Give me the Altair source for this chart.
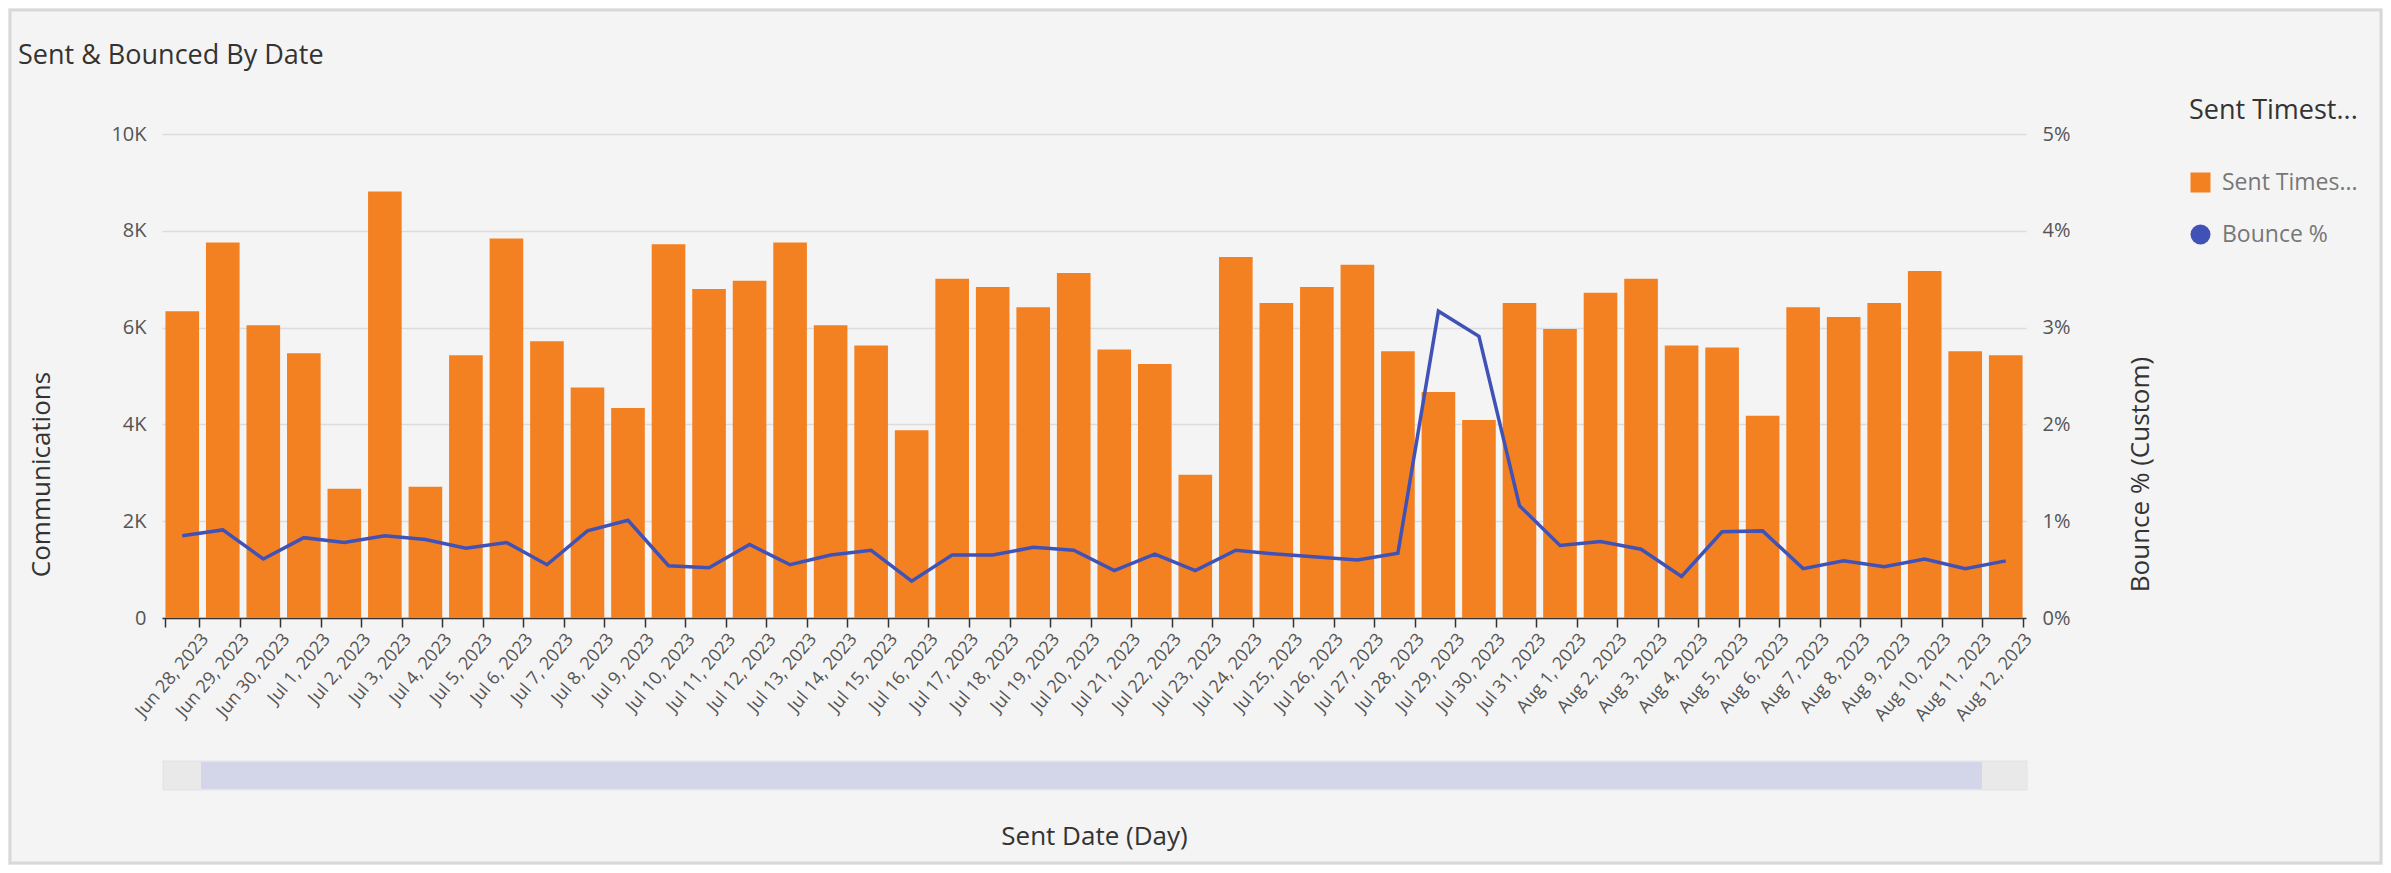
import altair as alt
import pandas as pd

# ---- data ----
dates = pd.date_range("2023-06-28", "2023-08-12", freq="D")
date_labels = [d.strftime("%b %-d, %Y") for d in dates]

sent_counts = [
    6340, 7760, 6050, 5470, 2670, 8810, 2710, 5430, 7840, 5720, 4760, 4340,
    7720, 6800, 6970, 7760, 6050, 5630, 3880, 7010, 6840, 6420, 7130,
    5550, 5250, 2960, 7460, 6510, 6840, 7300, 5510, 4670, 4090, 6510, 5970,
    6720, 7010, 5630, 5590, 4180, 6420, 6220, 6510, 7170, 5510, 5430,
]
bounce_pct = [
    0.85, 0.91, 0.61, 0.83, 0.78, 0.85, 0.81, 0.72, 0.78, 0.55, 0.90, 1.01,
    0.54, 0.52, 0.76, 0.55, 0.65, 0.70, 0.38, 0.65, 0.65, 0.73, 0.70,
    0.49, 0.66, 0.49, 0.70, 0.66, 0.63, 0.60, 0.67, 3.17, 2.91, 1.16, 0.75,
    0.79, 0.71, 0.43, 0.89, 0.90, 0.51, 0.59, 0.53, 0.61, 0.51, 0.59,
]

left_ticks = [0, 2000, 4000, 6000, 8000, 10000]
right_ticks = [0, 1, 2, 3, 4, 5]

series_names = ["Sent Times...", "Bounce %"]
series_colors = ["#F38122", "#4152B6"]
series_shapes = ["square", "circle"]
legend_title = "Sent Timest..."

df = pd.DataFrame({"date": date_labels, "sent": sent_counts, "bounce": bounce_pct})

FONT = "Open Sans"
W, H = 1864, 484

x_enc = alt.X(
    "date:N",
    sort=date_labels,
    scale=alt.Scale(paddingInner=0.17, paddingOuter=0.085),
    axis=alt.Axis(
        title="Sent Date (Day)",
        tickBand="extent",
        labelAngle=310,
        labelAlign="right",
        labelBaseline="top",
        labelFontSize=18,
        labelColor="#555555",
        labelPadding=3,
        labelOffset=16,
        domainColor="#333333",
        domainWidth=1.5,
        tickColor="#333333",
        tickWidth=1.5,
        tickSize=9,
        grid=False,
        titleFontSize=26,
        titleColor="#333333",
        titleFontWeight="normal",
        titleX=W / 2,
        titleY=218,
        titleBaseline="middle",
        titleAlign="center",
    ),
)

bars = alt.Chart(df).mark_bar(color=series_colors[0]).encode(
    x=x_enc,
    y=alt.Y(
        "sent:Q",
        scale=alt.Scale(domain=[0, 10000], nice=False),
        axis=alt.Axis(
            values=left_ticks,
            labelExpr="datum.value == 0 ? '0' : (datum.value / 1000) + 'K'",
            title="Communications",
            grid=True,
            gridColor="#dcdcdc",
            gridWidth=1.5,
            domain=False,
            ticks=False,
            labelPadding=16,
            labelFontSize=20,
            labelColor="#555555",
            titleFontSize=26,
            titleColor="#333333",
            titleFontWeight="normal",
            titleX=-121,
            titleY=340,
            titleAngle=270,
            titleBaseline="middle",
            titleAlign="center",
        ),
    ),
)

legend_kw = dict(
    title=legend_title,
    orient="none",
    legendX=2027,
    legendY=-36,
    titleFontSize=27,
    titleColor="#333333",
    titleFontWeight="normal",
    titlePadding=46,
    titleLimit=400,
    labelFontSize=23,
    labelColor="#777777",
    labelLimit=400,
    labelOffset=10,
    symbolSize=400,
    symbolOpacity=1,
    symbolStrokeWidth=0,
    rowPadding=28,
    padding=0,
)

# invisible points that only carry the legend (colour + shape per series)
legend_points = (
    alt.Chart(df)
    .transform_calculate(series="'Sent Times...'")
    .mark_point(filled=True, opacity=0)
    .encode(
        x=x_enc,
        color=alt.Color(
            "series:N",
            scale=alt.Scale(domain=series_names, range=series_colors),
            legend=alt.Legend(**legend_kw),
        ),
        shape=alt.Shape(
            "series:N",
            scale=alt.Scale(domain=series_names, range=series_shapes),
            legend=alt.Legend(**legend_kw),
        ),
    )
)

line = alt.Chart(df).mark_line(color=series_colors[1], strokeWidth=3.5).encode(
    x=x_enc,
    y=alt.Y(
        "bounce:Q",
        scale=alt.Scale(domain=[0, 5], nice=False),
        axis=alt.Axis(
            orient="right",
            values=right_ticks,
            labelExpr="datum.value + '%'",
            title="Bounce % (Custom)",
            grid=False,
            domain=False,
            ticks=False,
            labelPadding=16,
            labelFontSize=20,
            labelColor="#555555",
            titleFontSize=26,
            titleColor="#333333",
            titleFontWeight="normal",
            titleX=114,
            titleY=340,
            titleAngle=270,
            titleBaseline="middle",
            titleAlign="center",
        ),
    ),
)

# decorative scroll bar and outer frame (not data)
one = alt.Data(values=[{}])
frame = alt.Chart(one).mark_rect(filled=False, stroke="#d8d8d8", strokeWidth=3).encode(
    x=alt.value(-152), x2=alt.value(2219), y=alt.value(-124), y2=alt.value(729)
)
scroll_track = alt.Chart(one).mark_rect(color="#e9e9e9", stroke="#e2e2e2").encode(
    x=alt.value(1), x2=alt.value(W + 1), y=alt.value(627), y2=alt.value(656)
)
scroll_thumb = alt.Chart(one).mark_rect(color="#d3d5e9").encode(
    x=alt.value(39), x2=alt.value(1820), y=alt.value(628), y2=alt.value(655)
)

chart = (
    alt.layer(frame, alt.layer(bars, legend_points), line, scroll_track, scroll_thumb)
    .resolve_scale(y="independent")
    .properties(
        width=W,
        height=H,
        autosize=alt.AutoSizeParams(type="none"),
        padding={"left": 154, "top": 126, "right": 357, "bottom": 247},
        background="#f4f4f4",
        title=alt.TitleParams(
            "Sent & Bounced By Date",
            anchor="start",
            frame="group",
            dx=-144,
            offset=-88,
            fontSize=27,
            fontWeight="normal",
            color="#333333",
            baseline="bottom",
        ),
    )
    .configure(font=FONT)
    .configure_view(stroke=None)
)

chart.save("out.html", embed_options={"renderer": "svg", "actions": False})
